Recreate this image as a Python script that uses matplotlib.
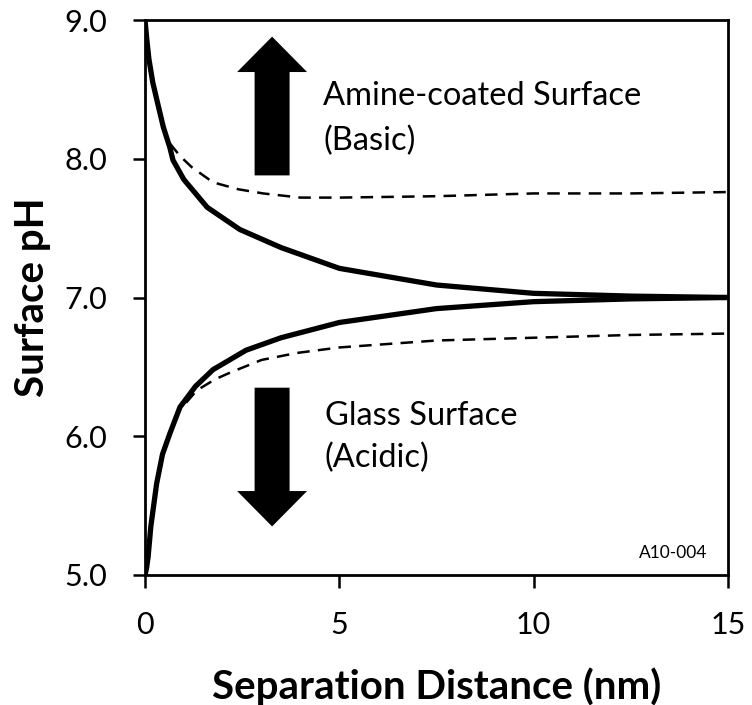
import matplotlib
matplotlib.use("Agg")
import matplotlib.pyplot as plt
from matplotlib.patches import FancyArrow
from matplotlib.ticker import FormatStrFormatter

plt.rcParams['font.family'] = ['Lato', 'DejaVu Sans']

# Amine-coated surface, solid (full model)
amine_x = [0.0, 0.05, 0.1, 0.2, 0.3, 0.47, 0.64, 0.72, 1.0, 1.6, 2.44, 3.5, 5.0, 7.5, 10.0, 12.5, 15.0]
amine_y = [9.0, 8.85, 8.72, 8.55, 8.43, 8.23, 8.08, 7.99, 7.85, 7.65, 7.49, 7.36, 7.21, 7.09, 7.03, 7.01, 7.0]

# Amine-coated surface, dashed
amine_d_x = [0.64, 0.9, 1.2, 1.75, 2.4, 3.04, 4.0, 5.0, 7.5, 10.0, 12.5, 15.0]
amine_d_y = [8.11, 8.02, 7.94, 7.83, 7.78, 7.75, 7.72, 7.72, 7.73, 7.75, 7.75, 7.76]

# Glass surface, solid
glass_x = [0.0, 0.04, 0.08, 0.15, 0.3, 0.45, 0.64, 0.9, 1.3, 1.75, 2.6, 3.5, 5.0, 7.5, 10.0, 12.5, 15.0]
glass_y = [5.0, 5.05, 5.13, 5.35, 5.66, 5.87, 6.02, 6.21, 6.36, 6.48, 6.62, 6.71, 6.82, 6.92, 6.97, 6.99, 7.0]

# Glass surface, dashed
glass_d_x = [0.75, 0.9, 1.33, 1.8, 2.2, 3.0, 3.9, 5.0, 7.5, 10.0, 12.5, 15.0]
glass_d_y = [6.12, 6.19, 6.33, 6.41, 6.46, 6.55, 6.6, 6.64, 6.69, 6.71, 6.73, 6.74]

x_ticks = [0, 5, 10, 15]
y_ticks = [5.0, 6.0, 7.0, 8.0, 9.0]

fig = plt.figure(figsize=(7.52, 7.05), dpi=100)
ax = fig.add_axes([145 / 752, 1 - 575 / 705, (728 - 145) / 752, (575 - 20) / 705])

ax.plot(amine_x, amine_y, color='black', lw=3.8, solid_capstyle='butt', zorder=3)
ax.plot(glass_x, glass_y, color='black', lw=3.8, solid_capstyle='butt', zorder=3)
ax.plot(amine_d_x, amine_d_y, color='black', lw=1.8, ls=(0, (5, 3.3)), zorder=2)
ax.plot(glass_d_x, glass_d_y, color='black', lw=1.8, ls=(0, (5, 3.3)), zorder=2)

# Direction arrows
ax.add_patch(FancyArrow(3.27, 7.88, 0, 1.0, width=0.9, head_width=1.8, head_length=0.255,
                        length_includes_head=True, color='black', lw=0))
ax.add_patch(FancyArrow(3.27, 6.35, 0, -1.0, width=0.9, head_width=1.8, head_length=0.255,
                        length_includes_head=True, color='black', lw=0))

label_kw = dict(fontsize=23.5, ha='left', va='baseline')
ax.text(4.58, 8.387, "Amine-coated Surface", **label_kw)
ax.text(4.58, 8.063, "(Basic)", **label_kw)
ax.text(4.62, 6.08, "Glass Surface", **label_kw)
ax.text(4.62, 5.775, "(Acidic)", **label_kw)
ax.text(14.46, 5.16, "A10-004", fontsize=12.5, ha='right', va='center')

ax.set_xlim(0, 15)
ax.set_ylim(5, 9)
ax.set_xticks(x_ticks)
ax.set_yticks(y_ticks)
ax.yaxis.set_major_formatter(FormatStrFormatter('%.1f'))
ax.tick_params(axis='both', direction='out', length=9, width=1.8, labelsize=22)
ax.tick_params(axis='x', pad=17)
ax.tick_params(axis='y', pad=18)
for s in ax.spines.values():
    s.set_linewidth(2)

ax.set_xlabel("Separation Distance (nm)", fontsize=29, fontweight='bold', labelpad=20)
ax.set_ylabel("Surface pH", fontsize=29, fontweight='bold', labelpad=10)

fig.savefig("out.png", dpi=100)
